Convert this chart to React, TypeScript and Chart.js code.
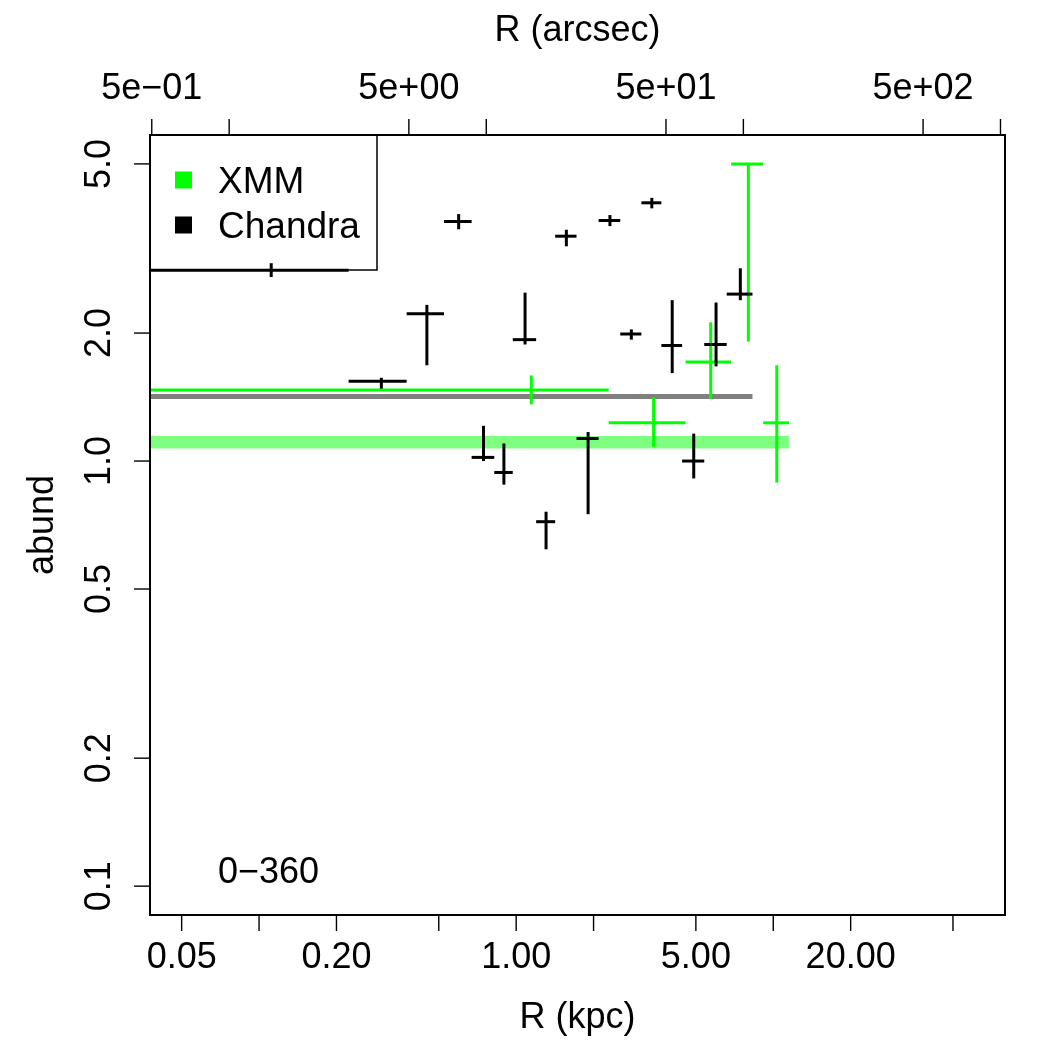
import { useEffect, useRef } from "react";
import { Chart, registerables } from "chart.js";

Chart.register(...registerables);

// Axis limits (kpc / abundance), R-style 4% padding around 0.05–60 and 0.1–5
const X_MIN = 0.037656;
const X_MAX = 79.67;
const Y_MIN = 0.08553;
const Y_MAX = 5.8474;
const KPC_TO_ARCSEC = 13.07;

// Tick values and labels
const kpcTicks = [0.05, 0.1, 0.2, 0.5, 1, 2, 5, 10, 20, 50];
const kpcLabels = ["0.05", "", "0.20", "", "1.00", "", "5.00", "", "20.00", ""];
const arcsecTicks = [0.5, 1, 5, 10, 50, 100, 500, 1000];
const arcsecLabels = ["5e\u221201", "", "5e+00", "", "5e+01", "", "5e+02", ""];
const abundTicks = [0.1, 0.2, 0.5, 1, 2, 5];
const abundLabels = ["0.1", "0.2", "0.5", "1.0", "2.0", "5.0"];

// Chandra annuli: centre radius, half-width (kpc), abundance and its range
const chandraR = [0.1115, 0.299, 0.4495, 0.5975, 0.7465, 0.896, 1.083, 1.307, 1.5675, 1.9045, 2.316, 2.805, 3.37, 4.045, 4.905, 5.99, 7.445];
const chandraRErr = [0.1115, 0.076, 0.0745, 0.0735, 0.0755, 0.074, 0.113, 0.111, 0.1495, 0.1875, 0.224, 0.265, 0.3, 0.375, 0.485, 0.6, 0.855];
const chandraAbund = [2.81, 1.54, 2.22, 3.66, 1.02, 0.94, 1.93, 0.72, 3.38, 1.13, 3.68, 1.99, 4.05, 1.87, 1.0, 1.88, 2.47];
const chandraLo = [2.71, 1.48, 1.68, 3.51, 1.0, 0.88, 1.88, 0.62, 3.2, 0.75, 3.57, 1.93, 3.93, 1.61, 0.91, 1.67, 2.39];
const chandraHi = [2.92, 1.57, 2.33, 3.81, 1.21, 1.1, 2.49, 0.76, 3.5, 1.17, 3.79, 2.04, 4.16, 2.39, 1.16, 2.36, 2.84];

// XMM annuli
const xmmR = [1.145, 3.425, 5.71, 8.0, 10.32];
const xmmRErr = [1.145, 1.135, 1.15, 1.14, 1.18];
const xmmAbund = [1.47, 1.23, 1.71, 5.0, 1.23];
const xmmLo = [1.36, 1.08, 1.4, 1.91, 0.89];
const xmmHi = [1.59, 1.41, 2.12, 5.0, 1.68];

// Mean abundances over the full radial range of each instrument
const xmmMean = 1.107;
const xmmMeanRMax = 11.5;
const chandraMean = 1.419;
const chandraMeanRMax = 8.3;

const panelLabel = "0\u2212360";

const FAMILY = '"Liberation Sans", Arial, Helvetica, sans-serif';
const FONT = `36px ${FAMILY}`;
const LEGEND_FONT = `37px ${FAMILY}`;
const GREEN = "#00ff00";
const BAR_WIDTH = 3;

function segment(data: { x: number; y: number }[], color: string, width: number, order: number) {
  return {
    type: "line" as const,
    data,
    borderColor: color,
    backgroundColor: color,
    borderWidth: width,
    borderCapStyle: "butt" as const,
    pointRadius: 0,
    showLine: true,
    fill: false,
    order,
  };
}

function errorBars(
  r: number[],
  rErr: number[],
  val: number[],
  lo: number[],
  hi: number[],
  color: string,
  order: number
) {
  const sets: any[] = [];
  r.forEach((x, i) => {
    const left = Math.max(x - rErr[i], X_MIN * 0.5);
    sets.push(segment([{ x: left, y: val[i] }, { x: x + rErr[i], y: val[i] }], color, BAR_WIDTH, order));
    sets.push(segment([{ x, y: lo[i] }, { x, y: hi[i] }], color, BAR_WIDTH, order));
  });
  return sets;
}

const axesPlugin = {
  id: "rAxes",
  afterDatasetsDraw(chart: any) {
    const { ctx, chartArea } = chart;
    const { left, right, top, bottom } = chartArea;
    const xs = chart.scales.x;
    const x2 = chart.scales.x2;
    const ys = chart.scales.y;
    ctx.save();
    ctx.strokeStyle = "#000";
    ctx.fillStyle = "#000";

    // plot box
    ctx.lineWidth = 2;
    ctx.strokeRect(left, top, right - left, bottom - top);

    ctx.font = FONT;
    ctx.lineWidth = 1.4;

    // bottom axis (kpc)
    ctx.textAlign = "center";
    ctx.textBaseline = "alphabetic";
    kpcTicks.forEach((v, i) => {
      const px = xs.getPixelForValue(v);
      ctx.beginPath();
      ctx.moveTo(px, bottom);
      ctx.lineTo(px, bottom + 16);
      ctx.stroke();
      if (kpcLabels[i]) ctx.fillText(kpcLabels[i], px, 968);
    });

    // top axis (arcsec)
    arcsecTicks.forEach((v, i) => {
      const px = x2.getPixelForValue(v);
      ctx.beginPath();
      ctx.moveTo(px, top);
      ctx.lineTo(px, top - 16);
      ctx.stroke();
      if (arcsecLabels[i]) ctx.fillText(arcsecLabels[i], px, 99);
    });

    // left axis (abundance), labels parallel to the axis
    abundTicks.forEach((v, i) => {
      const py = ys.getPixelForValue(v);
      ctx.beginPath();
      ctx.moveTo(left, py);
      ctx.lineTo(left - 16, py);
      ctx.stroke();
      ctx.save();
      ctx.translate(110, py);
      ctx.rotate(-Math.PI / 2);
      ctx.fillText(abundLabels[i], 0, 0);
      ctx.restore();
    });

    // axis titles
    const cx = (left + right) / 2;
    ctx.fillText("R (kpc)", cx, 1028);
    ctx.fillText("R (arcsec)", cx, 41);
    ctx.save();
    ctx.translate(53, (top + bottom) / 2);
    ctx.rotate(-Math.PI / 2);
    ctx.fillText("abund", 0, 0);
    ctx.restore();

    // panel label
    ctx.textAlign = "left";
    ctx.fillText(panelLabel, 218, 883);

    // legend
    ctx.lineWidth = 1.5;
    ctx.strokeRect(left, top, 377 - left, 270 - top);
    ctx.fillStyle = GREEN;
    ctx.fillRect(175, 171.5, 17, 17);
    ctx.fillStyle = "#000";
    ctx.fillRect(175, 216.5, 17, 17);
    ctx.font = LEGEND_FONT;
    ctx.fillText("XMM", 218, 193);
    ctx.fillText("Chandra", 218, 238);

    ctx.restore();
  },
};

export default function App() {
  const canvasRef = useRef<HTMLCanvasElement | null>(null);

  useEffect(() => {
    const canvas = canvasRef.current;
    if (!canvas) return;

    const datasets: any[] = [
      segment(
        [
          { x: X_MIN * 0.5, y: xmmMean },
          { x: xmmMeanRMax, y: xmmMean },
        ],
        "rgba(0,255,0,0.5)",
        12.6,
        100
      ),
      segment(
        [
          { x: X_MIN * 0.5, y: chandraMean },
          { x: chandraMeanRMax, y: chandraMean },
        ],
        "#808080",
        5,
        90
      ),
      ...errorBars(xmmR, xmmRErr, xmmAbund, xmmLo, xmmHi, GREEN, 50),
      ...errorBars(chandraR, chandraRErr, chandraAbund, chandraLo, chandraHi, "#000000", 10),
    ];

    const chart = new Chart(canvas, {
      type: "scatter",
      data: { datasets },
      options: {
        animation: false,
        responsive: false,
        maintainAspectRatio: false,
        layout: { padding: { left: 150, right: 45, top: 135, bottom: 135 } },
        scales: {
          x: { type: "logarithmic", min: X_MIN, max: X_MAX, display: false },
          x2: {
            type: "logarithmic",
            axis: "x",
            position: "top",
            min: X_MIN * KPC_TO_ARCSEC,
            max: X_MAX * KPC_TO_ARCSEC,
            display: false,
          },
          y: { type: "logarithmic", min: Y_MIN, max: Y_MAX, display: false },
        },
        plugins: {
          legend: { display: false },
          tooltip: { enabled: false },
        },
      } as any,
      plugins: [axesPlugin],
    });

    return () => chart.destroy();
  }, []);

  return (
    <div style={{ position: "absolute", left: 0, top: 0, width: 1050, height: 1050, background: "#fff" }}>
      <canvas ref={canvasRef} width={1050} height={1050} />
    </div>
  );
}
